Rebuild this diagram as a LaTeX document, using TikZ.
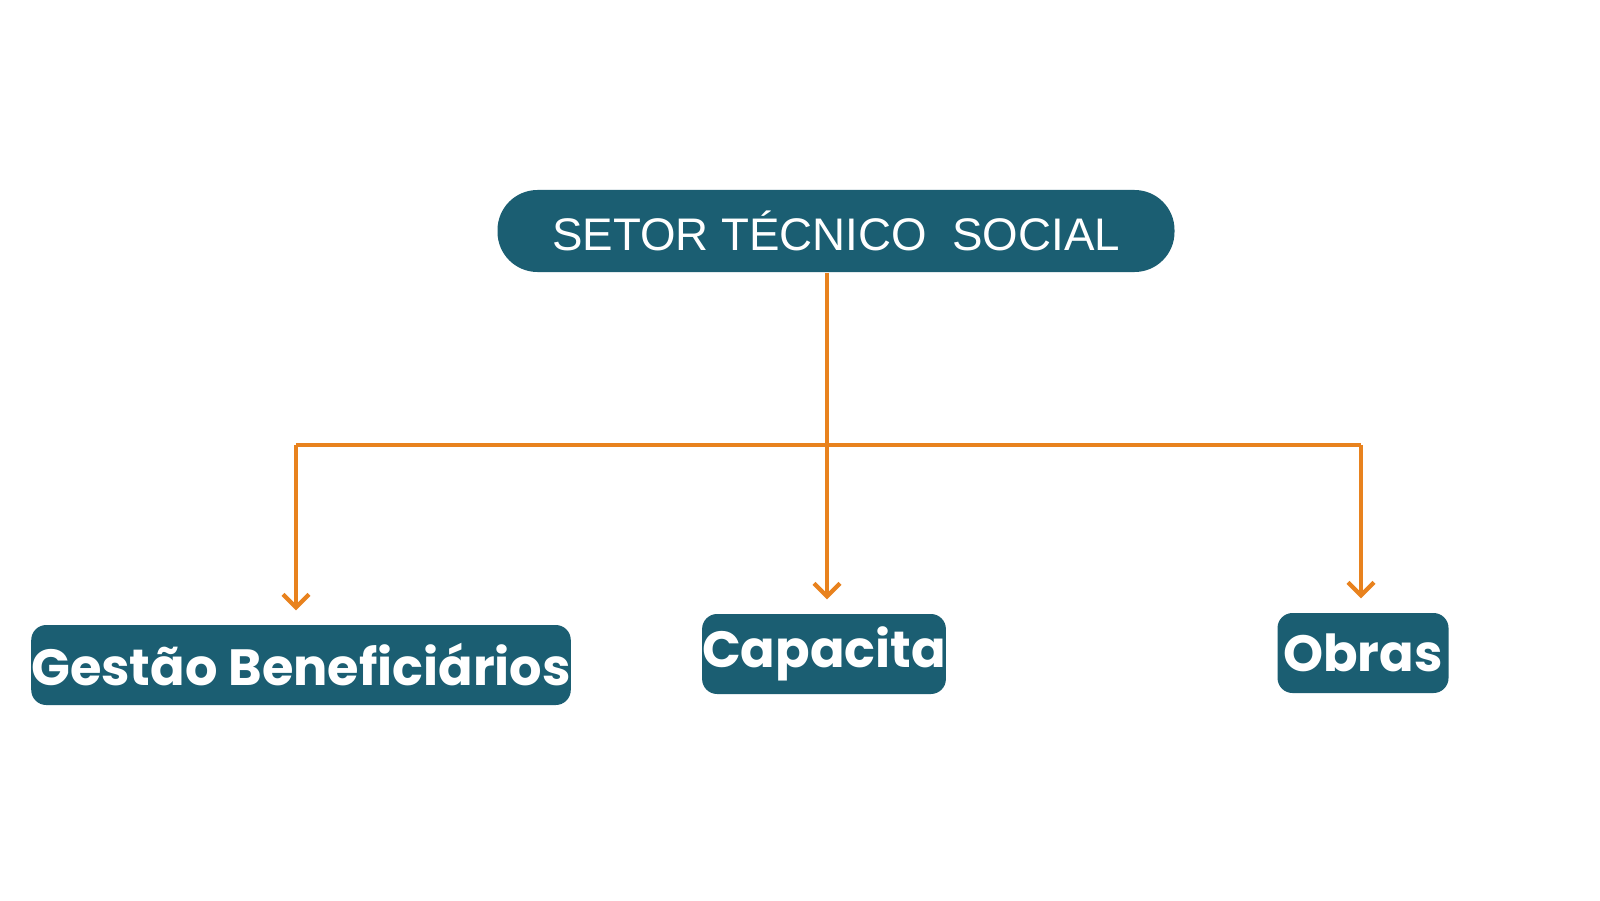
\documentclass[tikz,border=0pt]{standalone}
\usepackage{fontspec}
\setmainfont{Liberation Sans}
\newfontfamily\popfont{Poppins}
\usetikzlibrary{arrows.meta}
\definecolor{boxteal}{HTML}{1B5E72}
\definecolor{lineorange}{HTML}{E8821E}
\tikzset{
  topbox/.style={fill=boxteal, rounded corners=0.4cm, minimum width=6.77cm, minimum height=0.82cm, inner sep=0pt, text=white, font=\fontsize{13}{15}\selectfont},
  subbox/.style={fill=boxteal, rounded corners=0.15cm, minimum height=0.8cm, inner sep=0pt, text=white, font=\popfont\bfseries\fontsize{14.5}{16}\selectfont},
  link/.style={draw=lineorange, line width=1.2pt},
  linkarrow/.style={link, -{Straight Barb[length=1.3mm, width=2.6mm, line width=1.2pt]}, shorten >=0.14cm}
}
\begin{document}
\begin{tikzpicture}
    \useasboundingbox (0,0) rectangle (16,9);
    \fill[white] (0,0) rectangle (16,9);

    \node[topbox] (setor) at (8.36,6.69) {SETOR TÉCNICO\ \ SOCIAL};
    \node[subbox, minimum width=4.92cm] (gestao) at (3.01,2.35) {Gestão Beneficiários};
    \node[subbox, minimum width=2.42cm] (capacita) at (8.24,2.46) {Capacita};
    \node[subbox, minimum width=1.71cm] (obras) at (13.63,2.47) {Obras};

    \coordinate (mid) at (8.27,4.55);
    \coordinate (left) at (2.96,4.55);
    \coordinate (right) at (13.61,4.55);

    \draw[link] (setor.south -| mid) -- (mid);
    \draw[link] (left) -- (right);
    \draw[linkarrow] (left) -- (left |- gestao.north);
    \draw[linkarrow] (mid) -- (mid |- capacita.north);
    \draw[linkarrow] (right) -- (right |- obras.north);
\end{tikzpicture}
\end{document}
